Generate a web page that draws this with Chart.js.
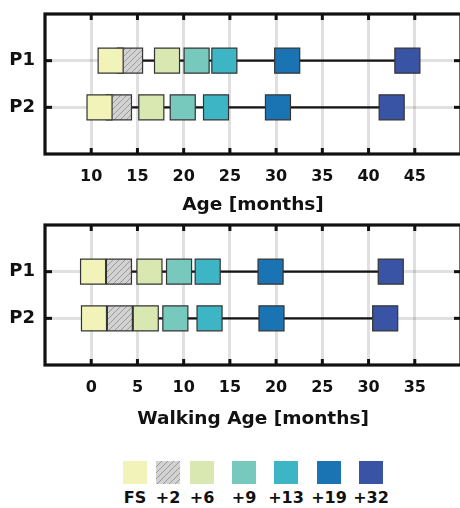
<!DOCTYPE html>
<html>
<head>
<meta charset="utf-8">
<script src="https://cdn.jsdelivr.net/npm/chart.js@4.4.1/dist/chart.umd.min.js"></script>
<style>
  html, body { margin: 0; padding: 0; background: #fff; }
  body { position: relative; width: 460px; height: 508px; overflow: hidden; font-family: 'DejaVu Sans', sans-serif; }
  canvas { position: absolute; left: 0; }
  #ageChart { top: 0; }
  #walkChart { top: 211px; }
  .key { position: absolute; top: 461px; width: 24px; height: 23px; }
  .key span { position: absolute; top: 27px; left: 50%; transform: translateX(-50%); font-size: 16px; font-weight: bold; color: #111; white-space: nowrap; }
</style>
</head>
<body>
<canvas id="ageChart" width="461" height="220"></canvas>
<canvas id="walkChart" width="461" height="220"></canvas>
<div id="legend"></div>
<script>
// sessions: first session, then months after it
const stageNames = ["FS", "+2", "+6", "+9", "+13", "+19", "+32"];
const rowNames = ["P1", "P2"];

// age at each session [months]
const ageP1 = [12.1, 14.2, 18.2, 21.4, 24.4, 31.2, 44.2];
const ageP2 = [10.9, 13.0, 16.5, 19.9, 23.5, 30.2, 42.5];
// walking age at each session [months]
const walkP1 = [0.2, 3.0, 6.3, 9.5, 12.6, 19.4, 32.4];
const walkP2 = [0.3, 3.1, 5.9, 9.1, 12.8, 19.5, 31.8];

const ageTicks = [10, 15, 20, 25, 30, 35, 40, 45];
const walkTicks = [0, 5, 10, 15, 20, 25, 30, 35];

Chart.defaults.font.family = "'DejaVu Sans', sans-serif";
Chart.defaults.color = "#111";

// gray diagonal hatch for the +2 session
const tile = document.createElement("canvas");
tile.width = 6; tile.height = 6;
const tc = tile.getContext("2d");
tc.fillStyle = "#d2d2d2";
tc.fillRect(0, 0, 6, 6);
tc.strokeStyle = "#8c8c8c";
tc.lineWidth = 0.8;
tc.beginPath();
tc.moveTo(0, 6); tc.lineTo(6, 0);
tc.moveTo(-1, 1); tc.lineTo(1, -1);
tc.moveTo(5, 7); tc.lineTo(7, 5);
tc.stroke();

function hatch(ctx) {
  return ctx.createPattern(tile, "repeat");
}

const stageColors = ["#f1f3b8", null, "#d9e8b1", "#76c9bc", "#3db5c4", "#1a74b4", "#3953a5"];

// thick frame with inward tick marks
const framePlugin = {
  id: "frame",
  afterDraw(chart) {
    const { ctx, chartArea: a, scales } = chart;
    ctx.save();
    ctx.fillStyle = "#111";
    scales.x.ticks.forEach(t => {
      const px = scales.x.getPixelForValue(t.value);
      ctx.fillRect(px - 1.5, a.top, 3, 6);
      ctx.fillRect(px - 1.5, a.bottom - 6, 3, 6);
    });
    scales.y.ticks.forEach(t => {
      const py = scales.y.getPixelForValue(t.value);
      ctx.fillRect(a.left, py - 1.5, 7, 3);
      ctx.fillRect(a.right - 7, py - 1.5, 7, 3);
    });
    ctx.strokeStyle = "#111";
    ctx.lineWidth = 3.2;
    ctx.strokeRect(a.left, a.top, a.right - a.left, a.bottom - a.top);
    ctx.restore();
  }
};

function makePanel(id, p1, p2, ticks, min, max, title, titlePad) {
  const ctx = document.getElementById(id).getContext("2d");
  const rows = [p1, p2];

  const datasets = stageNames.map((name, i) => ({
    type: "scatter",
    label: name,
    data: rows.map((r, k) => ({ x: r[i], y: k + 1 })),
    pointStyle: "rect",
    pointRadius: 17.7,
    pointHoverRadius: 17.7,
    pointBackgroundColor: stageColors[i] || hatch(ctx),
    pointBorderColor: "#343434",
    pointBorderWidth: 1.2,
    order: i
  }));

  rows.forEach((r, k) => {
    datasets.push({
      type: "line",
      label: rowNames[k],
      data: r.map(v => ({ x: v, y: k + 1 })),
      borderColor: "#161616",
      borderWidth: 2.2,
      pointRadius: 0,
      order: 20
    });
  });

  return new Chart(ctx, {
    data: { datasets },
    options: {
      responsive: false,
      animation: false,
      devicePixelRatio: 1,
      layout: { autoPadding: false, padding: { top: 14, left: 0, right: 0, bottom: 0 } },
      plugins: { legend: { display: false }, tooltip: { enabled: false } },
      events: [],
      scales: {
        x: {
          type: "linear",
          min: min,
          max: max,
          afterBuildTicks: s => { s.ticks = ticks.map(v => ({ value: v })); },
          afterFit: s => { s.height = 66; s.paddingLeft = 0; s.paddingRight = 0; },
          ticks: { font: { size: 16, weight: "bold" }, padding: 13, maxRotation: 0, autoSkip: false },
          grid: { color: "rgba(0,0,0,0.12)", lineWidth: 3, drawTicks: false },
          border: { display: false },
          title: { display: true, text: title, font: { size: 18.5, weight: "bold" }, padding: { top: 0, bottom: titlePad } }
        },
        y: {
          type: "linear",
          min: 0,
          max: 3,
          reverse: true,
          afterBuildTicks: s => { s.ticks = rowNames.map((n, k) => ({ value: k + 1 })); },
          afterFit: s => { s.width = 45; s.paddingTop = 0; s.paddingBottom = 0; },
          ticks: { callback: v => rowNames[v - 1], font: { size: 18, weight: "bold" }, padding: 10 },
          grid: { color: "rgba(0,0,0,0.12)", lineWidth: 3, drawTicks: false },
          border: { display: false }
        }
      }
    },
    plugins: [framePlugin]
  });
}

makePanel("ageChart", ageP1, ageP2, ageTicks, 5, 50, "Age [months]", 4);
makePanel("walkChart", walkP1, walkP2, walkTicks, -5, 40, "Walking Age [months]", 0.8);

// session key below the panels
const legendX = [123, 156, 190, 232, 274, 317, 359];
const legend = document.getElementById("legend");
stageNames.forEach((name, i) => {
  const box = document.createElement("div");
  box.className = "key";
  box.style.left = legendX[i] + "px";
  if (stageColors[i]) {
    box.style.background = stageColors[i];
  } else {
    box.style.backgroundImage = "url(" + tile.toDataURL() + ")";
  }
  const lab = document.createElement("span");
  lab.textContent = name;
  box.appendChild(lab);
  legend.appendChild(box);
});
</script>
</body>
</html>
